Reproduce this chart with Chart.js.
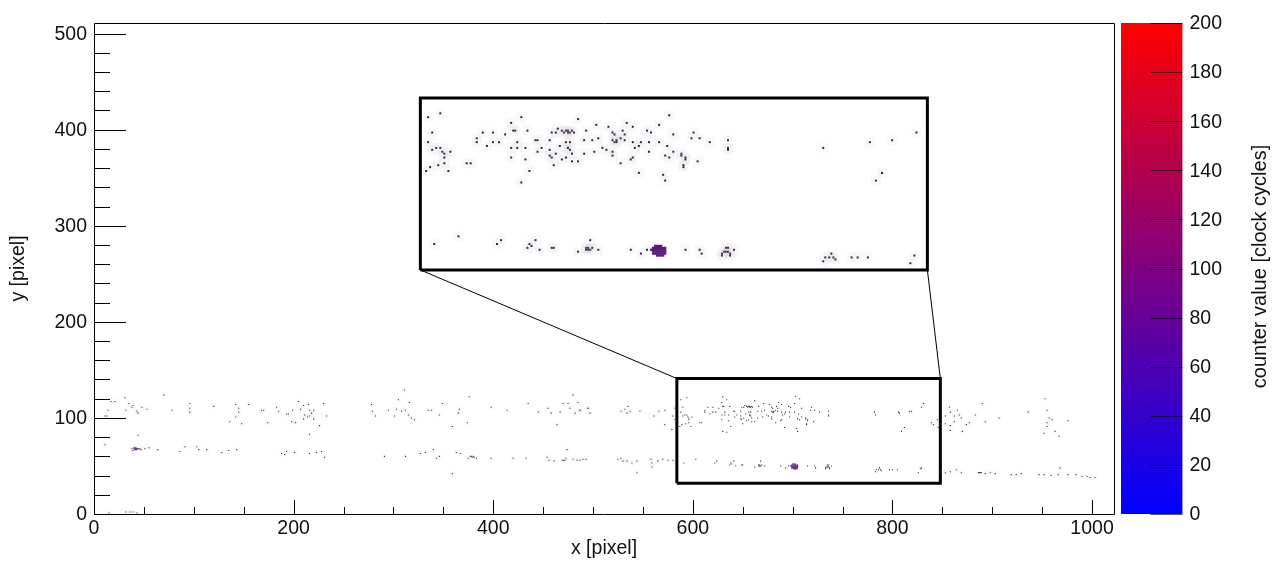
<!DOCTYPE html>
<html>
<head>
<meta charset="utf-8">
<title>counter value map</title>
<script src="https://cdn.jsdelivr.net/npm/chart.js@4/dist/chart.umd.min.js"></script>
<style>
  html, body { margin: 0; background: #fff; }
  #wrap { position: relative; width: 1286px; height: 576px; overflow: hidden; }
  canvas { position: absolute; top: 0; display: block; }
  #mapChart { left: 0; }
  #barChart { left: 1121px; }
</style>
</head>
<body>
<div id="wrap">
  <canvas id="mapChart" width="1286" height="576"></canvas>
  <canvas id="barChart" width="165" height="576"></canvas>
</div>
<script>
// points outside the zoomed box
const hitX = [11,13,14,17,21,31,32,35,38,39,43,44,48,53,70,78,96,96,96,120,142,145,145,142,136,148,155,168,170,174,183,185,193,195,199,205,207,210,215,216,218,220,211,214,216,198,202,210,220,226,216,233,230,
  278,279,282,295,301,305,311,303,308,312,316,315,318,321,335,338,346,349,365,366,359,374,376,398,414,435,445,455,458,467,470,475,477,480,482,485,487,495,464,
  11,44,38,40,46,47,39,51,55,64,86,91,103,105,113,128,135,143,188,193,191,201,216,223,228,231,
  291,312,327,332,340,343,346,363,367,375,383,420,433,398,454,456,461,473,474,480,484,487,493,359,15,32,36,39,43,
  487,495,497,528,532,535,537,534,547,561,566,572,582,580,582,579,572,
  490,525,528,530,534,539,544,558,559,559,544,565,570,575,580,
  857,858,862,865,867,853,853,858,862,869,874,877,883,890,893,907,870,858,936,953,955,957,960,955,955,952,963,967,976,
  853,858,864,869,893,898,903,919,924,929,947,952,959,966,968,976,984,990,995,998,1003,
  839,845,841,848,846,829,848,630,703,630,782,807,819,831];
const hitY = [102,102,108,117,117,121,108,115,111,113,107,105,111,109,124,108,115,110,106,112,114,110,106,101,96,94,114,108,108,95,111,107,104,104,108,117,109,113,114,108,105,108,103,101,102,96,95,99,99,92,83,102,115,
  114,107,102,108,102,119,129,109,107,108,116,103,100,98,108,108,103,115,105,109,91,95,122,111,108,115,106,110,105,106,115,115,110,124,105,116,108,110,93,
  72,82,68,68,68,67,66,68,69,67,65,70,70,67,67,64,66,67,63,65,62,64,63,64,65,59,
  60,60,63,64,67,58,60,64,63,58,58,58,58,58,59,56,55,58,67,57,56,56,57,42,1,2,2,2,1,
  108,110,105,107,109,112,107,105,107,102,107,108,110,102,98,88,93,
  57,57,58,55,55,53,55,57,53,49,43,55,57,56,56,
  111,106,102,108,103,102,94,92,96,100,93,95,103,115,96,100,86,87,106,120,108,100,98,95,91,84,86,81,97,
  43,44,46,43,42,43,42,41,41,42,41,41,40,41,48,41,41,39,39,38,38,
  95,98,93,94,90,48,44,122,122,86,106,105,107,115];

// stronger hits outside the zoomed box
const strongX = [40,41,42,41,42,43,44,45,41,42,43,377,378,379,380,381,469,470,471,472,886,887,888,889];
const strongY = [69,69,69,68,68,68,68,68,67,67,67,60,60,59,60,59,56,56,56,56,43,43,43,43];

// points inside the zoomed box
const zoomX = [588,594,590,588,590,592,594,595,596,596,599,596,593,589,598,587,607,609,612,612,615,617,620,623,620,626,629,634,630,631,632,629,632,636,629,636,638,634,637,641,642,644,642,648,649,651,652,654,656,657,659,655,657,658,662,660,666,665,669,672,671,677,679,680,679,681,683,685,685,684,686,689,696,698,702,707,709,
  648,648,649,651,653,656,658,657,658,659,657,654,656,650,659,662,665,670,674,676,679,679,681,683,680,689,692,693,690,697,697,702,706,709,705,707,689,688,692,704,705,
  719,718,722,727,736,736,736,713,713,715,715,721,714,714,783,806,817,829,812,809,
  591,603,622,624,637,638,641,639,643,649,650,662,668,666,667,666,667,668,669,672,688,693,696,715,722,723,
  735,736,734,733,737,739,735,736,737,733,783,784,786,787,788,789,797,800,805,828,826];
const zoomY = [119,121,111,106,102,103,103,101,100,98,101,95,94,93,91,91,95,95,108,106,111,104,106,106,111,110,116,119,112,112,106,103,103,103,98,97,91,85,112,107,107,103,101,107,111,111,113,112,112,112,112,111,111,111,118,111,112,107,107,108,115,114,111,110,107,107,108,110,107,112,116,114,112,111,115,120,110,
  102,99,98,100,104,106,106,103,102,100,103,97,98,94,96,96,100,101,103,102,101,99,106,95,106,106,104,106,103,106,101,106,104,101,99,98,98,97,90,89,86,
  111,108,108,106,107,103,102,100,99,98,97,96,94,93,103,106,107,111,90,86,
  53,57,53,55,51,53,55,52,50,51,51,49,55,51,51,50,50,50,51,50,50,48,50,50,50,48,
  51,51,49,48,48,50,49,49,47,47,44,46,46,48,46,45,46,46,46,47,43];

// the hot spot in the zoomed box
const spotX = [700,701,702,703,699,700,701,702,703,704,705,698,699,700,701,702,703,704,705,699,700,701,702,703,704,705,699,700,701,702,703,704,705,701,702,703,704];
const spotY = [52,52,52,52,51,51,51,51,51,51,51,50,50,50,50,50,50,50,50,49,49,49,49,49,49,49,48,48,48,48,48,48,48,47,47,47,47];

// zoom frames and their connector lines, in detector pixels
const zoomBoxX = [584,848,848,584,584];
const zoomBoxY = [32,32,141,141,32];
const insetBoxX = [327,835,835,327,327];
const insetBoxY = [254,254,433,433,254];
const leftLinkX = [327,584];
const leftLinkY = [254,141];
const rightLinkX = [835,848];
const rightLinkY = [254,141];

const barRange = [[0, 200]];
const barLabels = ["counter"];

const FONT = "'Liberation Sans', Arial, sans-serif";
const INK = "#111";

function toPoints(xs, ys) {
  return xs.map((x, i) => ({ x: x, y: ys[i] }));
}

function dots(xs, ys, color, radius, xAxis, yAxis) {
  return {
    type: "scatter",
    data: toPoints(xs, ys),
    xAxisID: xAxis,
    yAxisID: yAxis,
    pointStyle: "rect",
    pointRadius: radius,
    pointBorderWidth: 0,
    backgroundColor: color,
    borderColor: color,
  };
}

function frame(xs, ys, width) {
  return {
    type: "line",
    data: toPoints(xs, ys),
    xAxisID: "x",
    yAxisID: "y",
    borderColor: "#000",
    borderWidth: width,
    pointRadius: 0,
    fill: false,
    tension: 0,
    borderJoinStyle: "miter",
  };
}

// inward tick marks, root style. the library only draws them outward
const inwardTicks = {
  id: "inwardTicks",
  afterDraw(chart) {
    const c = chart.ctx;
    const area = chart.chartArea;
    c.save();
    c.strokeStyle = "#000";
    c.lineWidth = 1;
    c.beginPath();
    chart.scales.x.ticks.forEach(t => {
      const px = Math.round(chart.scales.x.getPixelForValue(t.value)) + 0.5;
      const len = t.value % 200 === 0 ? 14 : 7;
      c.moveTo(px, area.bottom);
      c.lineTo(px, area.bottom - len);
    });
    chart.scales.y.ticks.forEach(t => {
      const py = Math.round(chart.scales.y.getPixelForValue(t.value)) + 0.5;
      const len = t.value % 100 === 0 ? 32 : 16;
      c.moveTo(area.left, py);
      c.lineTo(area.left + len, py);
    });
    c.rect(area.left + 0.5, area.top + 0.5, area.right - area.left, area.bottom - area.top);
    c.stroke();
    c.restore();
  },
};

const barTicks = {
  id: "barTicks",
  afterDraw(chart) {
    const c = chart.ctx;
    const area = chart.chartArea;
    const scale = chart.scales.y;
    c.save();
    c.strokeStyle = "rgba(0,0,0,0.65)";
    c.lineWidth = 1;
    c.beginPath();
    scale.ticks.forEach(t => {
      const py = Math.round(scale.getPixelForValue(t.value)) + 0.5;
      c.moveTo(area.right, py);
      c.lineTo(area.right - 32, py);
    });
    c.stroke();
    // the library would turn a right-hand title the other way round
    c.fillStyle = INK;
    c.font = "20px " + FONT;
    c.textAlign = "center";
    c.textBaseline = "middle";
    c.translate(139, (area.top + area.bottom) / 2 - 2);
    c.rotate(-Math.PI / 2);
    c.fillText("counter value [clock cycles]", 0, 0);
    c.restore();
  },
};

new Chart(document.getElementById("mapChart"), {
  data: {
    datasets: [
      // faint smear around each hit, the picture is a jpeg
      dots(zoomX, zoomY, "rgba(150,140,150,0.05)", 7, "xInset", "yInset"),
      dots(hitX, hitY, "rgba(150,140,150,0.05)", 3.5, "x", "y"),
      dots(hitX, hitY, "#2a2440", 0.75, "x", "y"),
      dots(zoomX, zoomY, "#2a2440", 0.75, "x", "y"),
      dots(strongX, strongY, "#54206f", 0.8, "x", "y"),
      dots(spotX, spotY, "#56186f", 0.8, "x", "y"),
      dots(zoomX, zoomY, "#201d3a", 1.4, "xInset", "yInset"),
      dots(spotX, spotY, "#5a1a78", 1.6, "xInset", "yInset"),
      frame(zoomBoxX, zoomBoxY, 3),
      frame(insetBoxX, insetBoxY, 3),
      frame(leftLinkX, leftLinkY, 1),
      frame(rightLinkX, rightLinkY, 1),
    ],
  },
  options: {
    responsive: false,
    animation: false,
    layout: { padding: { left: 0, right: 172, top: 23, bottom: 0 } },
    plugins: { legend: { display: false }, tooltip: { enabled: false } },
    scales: {
      x: {
        type: "linear",
        position: "bottom",
        min: 0,
        max: 1022,
        afterFit(scale) { scale.height = 62; },
        grid: { display: false, drawTicks: false },
        border: { display: false },
        ticks: {
          stepSize: 50,
          includeBounds: false,
          autoSkip: false,
          maxRotation: 0,
          padding: 3,
          color: INK,
          font: { family: FONT, size: 19.5 },
          callback: v => (v % 200 === 0 ? v : ""),
        },
        title: {
          display: true,
          text: "x [pixel]",
          color: INK,
          font: { family: FONT, size: 19.5 },
          padding: { top: 0, bottom: 16 },
        },
      },
      y: {
        type: "linear",
        position: "left",
        min: 0,
        max: 511,
        afterFit(scale) { scale.width = 94; },
        grid: { display: false, drawTicks: false },
        border: { display: false },
        ticks: {
          stepSize: 20,
          includeBounds: false,
          autoSkip: false,
          padding: 7,
          labelOffset: 1,
          color: INK,
          font: { family: FONT, size: 19.5 },
          callback: v => (v % 100 === 0 ? v : ""),
        },
        title: {
          display: true,
          text: "y [pixel]",
          color: INK,
          font: { family: FONT, size: 19.5 },
          padding: { top: 7, bottom: 0 },
        },
      },
      // same detector pixels as x and y, stretched so the box lands on the inset frame
      xInset: { type: "linear", display: false, min: 423.1, max: 926.5 },
      yInset: { type: "linear", display: false, min: -87.5, max: 168 },
    },
  },
  plugins: [inwardTicks],
});

new Chart(document.getElementById("barChart"), {
  type: "bar",
  data: {
    labels: barLabels,
    datasets: [{
      data: barRange,
      barPercentage: 1,
      categoryPercentage: 1,
      borderWidth: 0,
      backgroundColor(ctx) {
        const area = ctx.chart.chartArea;
        if (!area) return "#800080";
        const g = ctx.chart.ctx.createLinearGradient(0, area.bottom, 0, area.top);
        g.addColorStop(0, "rgb(0,0,255)");
        g.addColorStop(1, "rgb(255,0,0)");
        return g;
      },
    }],
  },
  options: {
    responsive: false,
    animation: false,
    layout: { padding: { left: 0, right: 0, top: 23, bottom: 62 } },
    plugins: { legend: { display: false }, tooltip: { enabled: false } },
    scales: {
      x: { display: false },
      y: {
        position: "right",
        min: 0,
        max: 200,
        afterFit(scale) { scale.width = 103.5; },
        grid: { display: false, drawTicks: false },
        border: { display: false },
        ticks: {
          stepSize: 20,
          padding: 7,
          labelOffset: 1,
          color: INK,
          font: { family: FONT, size: 19.5 },
        },
      },
    },
  },
  plugins: [barTicks],
});
</script>
</body>
</html>
